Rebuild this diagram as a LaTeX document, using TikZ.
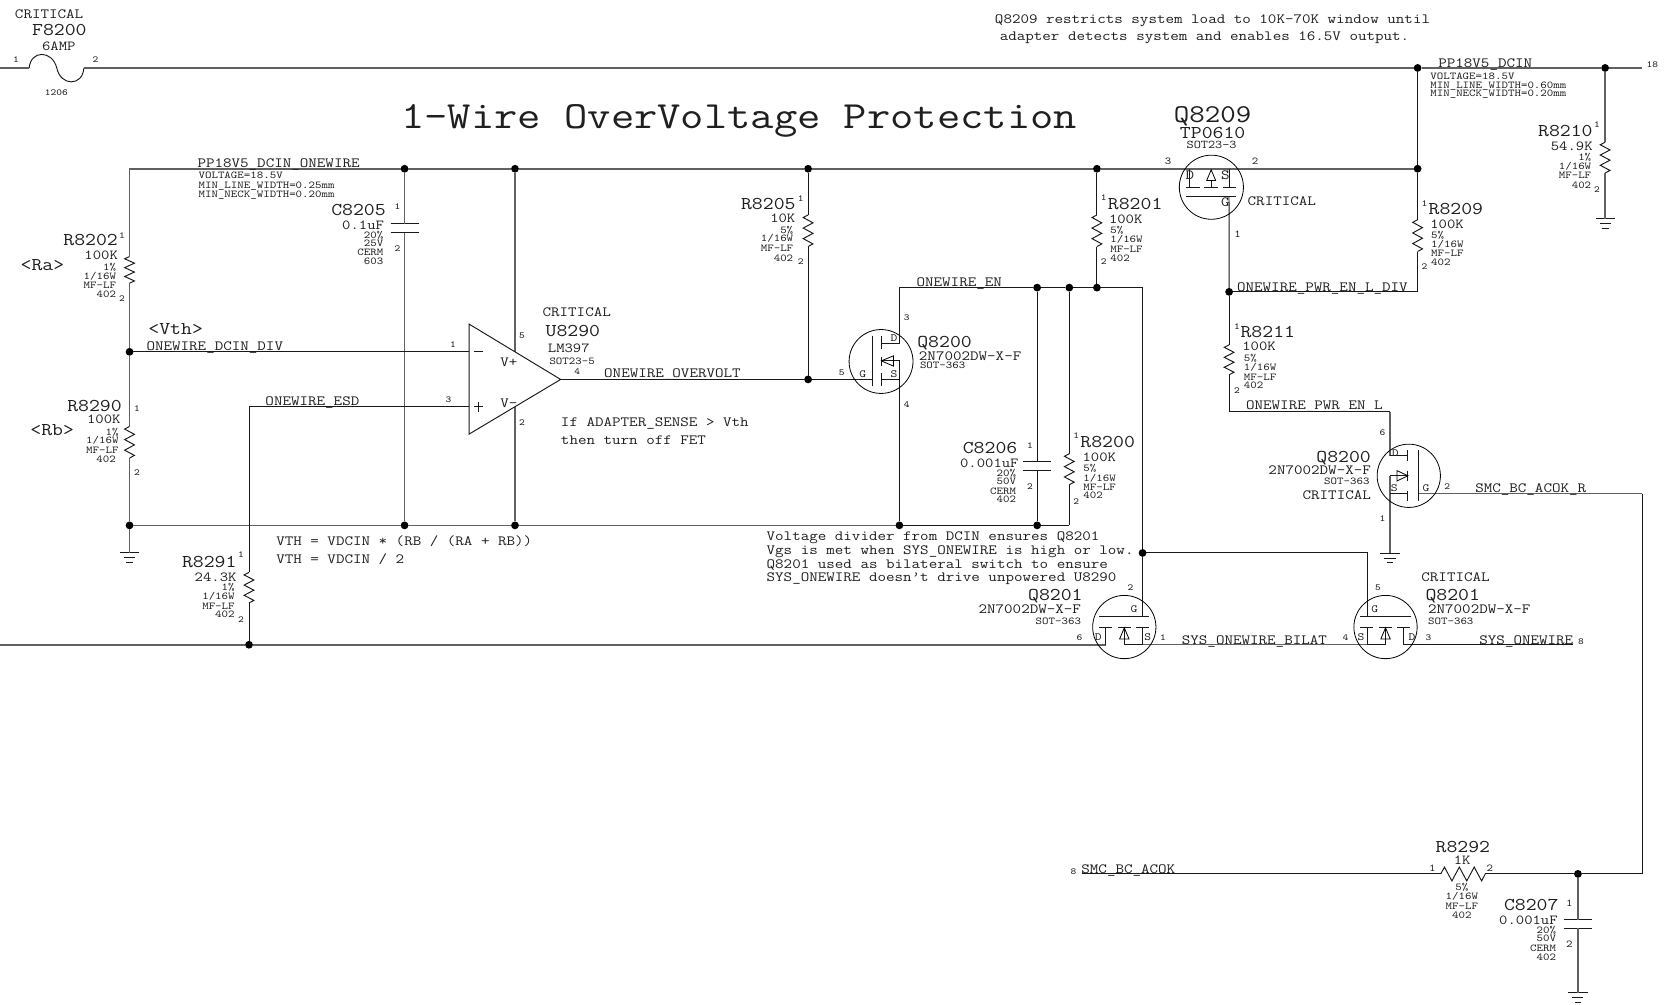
\documentclass[tikz,border=0pt]{standalone}
\usepackage{fontspec}
\setmainfont{Latin Modern Mono}[FakeStretch=1.175]
\newcounter{tn}
\newcommand{\T}[5]{\stepcounter{tn}\node[anchor=#1,#2] (t\arabic{tn}) at (#3,#4) {#5};}
% vertical resistor: name, x, y1, y2
\newcommand{\resv}[4]{%
  \coordinate (#1a) at (#2,#3); \coordinate (#1b) at (#2,#4);
  \pgfmathsetmacro{\hh}{(#4-#3)/12}
  \draw[wire,line join=miter] (#1a)
    -- ({#2-4.6},{#3+\hh}) -- ({#2+4.6},{#3+3*\hh}) -- ({#2-4.6},{#3+5*\hh})
    -- ({#2+4.6},{#3+7*\hh}) -- ({#2-4.6},{#3+9*\hh}) -- ({#2+4.6},{#3+11*\hh}) -- (#1b);}
% horizontal capacitor plates on a vertical wire: name, x, y1, y2
\newcommand{\capv}[4]{%
  \coordinate (#1a) at (#2,#3); \coordinate (#1b) at (#2,#4);
  \draw[wire] ({#2-13.2},#3) -- ({#2+13.2},#3);
  \draw[wire] ({#2-13.2},#4) -- ({#2+13.2},#4);}
% ground
\newcommand{\gnd}[3]{%
  \coordinate (#1) at (#2,#3);
  \draw[wire] ({#2-9},#3) -- ({#2+9},#3);
  \draw[wire] ({#2-5.2},{#3+4.6}) -- ({#2+5.2},{#3+4.6});
  \draw[wire] ({#2-3.2},{#3+9}) -- ({#2+3.2},{#3+9});}
\tikzset{
  fs/.style={font=\fontsize{#1}{#1}\selectfont,text height=.6*#1 pt,text depth=0pt,inner sep=0pt,outer sep=0pt,text=black!88},
  title/.style={fs=38.5},
  big/.style={fs=25.6},
  lab/.style={fs=18},
  mid/.style={fs=13.8},
  net/.style={fs=14.1},
  sm/.style={fs=10.5},
  fet/.style={fs=11},
  pinn/.style={fs=9.3},
  wire/.style={draw=black!90,line width=0.95pt},
  gw/.style={draw=black!62,line width=1.5pt},
  thin/.style={draw=black,line width=0.8pt},
  dot/.style={circle,fill=black,draw=none,minimum size=7.8pt,inner sep=0pt,outer sep=0pt},
}
\begin{document}
\begin{tikzpicture}[x=1.06186pt,y=-1.06131pt]
\useasboundingbox (0,0) rectangle (1568,946);
\fill[white] (0,0) rectangle (1568,946);
% junctions
\foreach \n/\x/\y in {j1/1335/64,j2/1511.6/64,j3/381/159,j4/485/159,j5/761/159,j6/1033/159,j7/1335/159,
  j8/122/331.5,j9/122/495,j10/381/495,j11/485/495,j12/847/495,j13/976.7/495,j14/761/357.5,
  j15/976.7/271,j16/1007/271,j17/1033/271,j18/1157.5/275,j19/1076/521,j20/234.5/607.5,j21/1486/823.4}
  {\node[dot] (\n) at (\x,\y) {};}
% free ends and corners
\foreach \n/\x/\y in {rl/0/64,f1/27.5/64,f2/79/64,re/1546/64,c1/122/159,c2/122/521,
  opT/485/331.5,opB/485/383.4,opM/441.8/331.5,opP/441.8/383.4,opO/528/357.5,c3/234.5/383.4,
  lr/0/607.5,qa/1041.2/607.5,qb/1075.8/607.4,qc/1287.6/607.4,qd/1321.9/607.4,qe/1481/607.4,
  g0/821.2/357.5,c4/847/271,c5/847/323.3,c6/829.7/323.3,c7/847/340,c8/1076/271,c9/1076/581,
  c10/1007/495,c11/1287.6/521,c12/1287.6/581,c13/1157.4/184.9,c14/1335/275,
  c15/1157.5/388,c16/1309/388,c17/1309/429.4,c18/1325.9/429.4,c19/1325.9/448.3,c20/1309/448.3,
  c21/1309/465,c22/1325.9/465,c23/1335.5/465,c24/1546.4/465,c25/1546.4/823.4,c26/1019.4/823.4}
  {\coordinate (\n) at (\x,\y);}
% fuse
\draw[wire] (f1) .. controls (29,47) and (49,47) .. (53.5,64) .. controls (57,81.5) and (78,81.5) .. (f2);
% resistors
\resv{R8202}{122}{241.7}{266.8}
\resv{R8290}{122}{401.8}{431.6}
\resv{R8291}{234.5}{539.3}{568.1}
\resv{R8205}{761}{202.5}{232.3}
\resv{R8201}{1033}{202.5}{232.3}
\resv{R8200}{1007}{427.5}{456.7}
\resv{R8209}{1335}{207}{237}
\resv{R8211}{1157.5}{324.9}{353.1}
\resv{R8210}{1511.6}{134}{163}
% horizontal resistor
\coordinate (R8292a) at (1356.8,823.4); \coordinate (R8292b) at (1398.7,823.4);
\draw[wire] (R8292a) -- (1360.3,817) -- (1367.3,830) -- (1374.3,817) -- (1381.3,830) -- (1388.3,817) -- (1395.3,830) -- (R8292b);
% capacitors
\capv{C8205}{381}{210.9}{219.1}
\capv{C8206}{976.7}{435}{443.5}
\capv{C8207}{1486}{866.4}{874.8}
% grounds
\gnd{G1}{122}{521}
\gnd{G2}{1511.6}{206.2}
\gnd{G3}{1309}{521.4}
\gnd{G4}{1486}{935.4}
% gray wires
\draw[gw] (rl) -- (f1);
\draw[gw] (f2) -- (j1) -- (j2) -- (re);
\draw[gw] (R8202a) -- (c1) -- (j3) -- (j4) -- (j5) -- (j6) -- (j7);
\draw[gw] (R8202b) -- (j8) -- (R8290a);
\draw[gw] (R8290b) -- (j9) -- (G1);
\draw[gw] (j9) -- (j10) -- (j11) -- (j12);
\draw[gw] (j3) -- (C8205a);
\draw[gw] (C8205b) -- (j10);
\draw[gw] (j4) -- (opT);
\draw[gw] (opB) -- (j11);
\draw[gw] (lr) -- (j20) -- (qa);
\draw[gw] (j2) -- (R8210a);
\draw[gw] (R8210b) -- (G2);
\draw[gw] (j21) -- (C8207a);
\draw[gw] (C8207b) -- (G4);
\draw[gw] (c23) -- (c24);
\draw[gw] (qb) -- (qc);
\draw[gw] (c16) -- (c17);
\draw[gw] (c20) -- (G3);
% black wires
\draw[wire] (j8) -- (opM);
\draw[wire] (opP) -- (c3) -- (R8291a);
\draw[wire] (R8291b) -- (j20);
\draw[wire] (opO) -- (j14) -- (g0);
\draw[wire] (j5) -- (R8205a);
\draw[wire] (R8205b) -- (j14);
\draw[wire] (j6) -- (R8201a);
\draw[wire] (R8201b) -- (j17);
\draw[wire] (c6) -- (c5) -- (c4) -- (j15) -- (j16) -- (j17) -- (c8) -- (j19) -- (c9);
\draw[wire] (c7) -- (j12);
\draw[wire] (j12) -- (j13) -- (c10);
\draw[wire] (j15) -- (C8206a);
\draw[wire] (C8206b) -- (j13);
\draw[wire] (j16) -- (R8200a);
\draw[wire] (R8200b) -- (c10);
\draw[wire] (j19) -- (c11) -- (c12);
\draw[wire] (c13) -- (j18);
\draw[wire] (j18) -- (c14) -- (R8209b);
\draw[wire] (R8209a) -- (j7) -- (j1);
\draw[wire] (j18) -- (R8211a);
\draw[wire] (R8211b) -- (c15) -- (c16);
\draw[wire] (c17) -- (c18);
\draw[wire] (c19) -- (c20);
\draw[wire] (c21) -- (c22);
\draw[wire] (c24) -- (c25) -- (j21) -- (R8292b);
\draw[wire] (R8292a) -- (c26);
\draw[wire] (qd) -- (qe);
% op amp
\draw[wire,line join=miter] (441.8,305.4) -- (opO) -- (441.8,409) -- cycle;
\draw[wire] (446,331.5) -- (455,331.5);
\draw[wire] (446,383.4) -- (455,383.4) (450.5,379) -- (450.5,388);
% Q8200 upper
\draw[thin] (829.7,340.6) circle (30.1);
\draw[wire] (821.2,316.4) -- (821.2,363.5);
\draw[wire] (829.7,316.4) -- (829.7,329);
\draw[wire] (829.7,335.9) -- (829.7,345.3);
\draw[wire] (829.7,351.6) -- (829.7,363.5);
\draw[wire] (829.7,357.5) -- (847,357.5) -- (847,340) -- (829.7,340);
\draw[thin,line join=miter] (830,340) -- (841.5,335.2) -- (841.5,345) -- cycle;
% Q8200 lower
\draw[thin] (1326.7,448.3) circle (29.8);
\draw[wire] (1335.5,424.4) -- (1335.5,471.8);
\draw[wire] (1325.9,424.4) -- (1325.9,434);
\draw[wire] (1325.9,443.5) -- (1325.9,453);
\draw[wire] (1325.9,462.4) -- (1325.9,471.8);
\draw[thin,line join=miter] (1325.9,448.3) -- (1315.5,443.4) -- (1315.5,453.2) -- cycle;
% Q8209
\draw[thin] (1140.8,176.4) circle (30.2);
\draw[wire] (1120.6,159) -- (1120.6,176.7);
\draw[wire] (1157.4,159) -- (1157.4,176.7);
\draw[wire] (1140.6,170) -- (1140.6,176.7);
\draw[wire] (1117.3,176.7) -- (1130,176.7) (1134.3,176.7) -- (1147,176.7) (1152,176.7) -- (1164,176.7);
\draw[wire] (1117.3,184.9) -- (1164,184.9);
\draw[thin,line join=miter] (1140.6,160) -- (1136.4,170) -- (1144.8,170) -- cycle;
% Q8201 left
\draw[thin] (1058.8,590.8) circle (29.8);
\draw[wire] (1035.3,581) -- (1082.2,581);
\draw[wire] (1035.3,590.8) -- (1047.2,590.8) (1053.2,590.8) -- (1065,590.8) (1070.2,590.8) -- (1082.2,590.8);
\draw[wire] (1041.2,590.8) -- (qa);
\draw[wire] (1075.8,590.8) -- (qb);
\draw[wire] (1058.8,590.8) -- (1058.8,607.4) -- (qb);
\draw[thin,line join=miter] (1058.8,591.5) -- (1054.4,602) -- (1063.2,602) -- cycle;
% Q8201 right
\draw[thin] (1304.8,590.8) circle (29.8);
\draw[wire] (1281,581) -- (1328.6,581);
\draw[wire] (1281,590.8) -- (1293,590.8) (1298.9,590.8) -- (1310.9,590.8) (1316,590.8) -- (1328,590.8);
\draw[wire] (1287.6,590.8) -- (qc);
\draw[wire] (1321.9,590.8) -- (qd);
\draw[wire] (1304.8,590.8) -- (1304.8,607.4) -- (qc);
\draw[thin,line join=miter] (1304.8,591.5) -- (1300.4,602) -- (1309.2,602) -- cycle;
% texts
\T{west}{title}{378}{110}{1-Wire OverVoltage Protection}
\T{west}{net}{937}{18}{Q8209 restricts system load to 10K-70K window until}
\T{west}{net}{941.5}{34}{adapter detects system and enables 16.5V output.}
\T{west}{net}{14.1}{13.5}{CRITICAL}
\T{west}{lab}{30.3}{28.2}{F8200}
\T{west}{mid}{39.7}{43.3}{6AMP}
\T{center}{pinn}{53}{87}{1206}
\T{center}{pinn}{15}{56.5}{1}
\T{center}{pinn}{90}{56.5}{2}
% PP18V5_DCIN
\T{west}{net}{1354.5}{60}{PP18V5\_DCIN}
\T{west}{sm}{1347}{71.5}{VOLTAGE=18.5V}
\T{west}{sm}{1347}{80}{MIN\_LINE\_WIDTH=0.60mm}
\T{west}{sm}{1347}{88}{MIN\_NECK\_WIDTH=0.20mm}
\T{center}{pinn}{1556}{61}{18}
% PP18V5_DCIN_ONEWIRE
\T{west}{net}{186}{153.8}{PP18V5\_DCIN\_ONEWIRE}
\T{west}{sm}{187}{165}{VOLTAGE=18.5V}
\T{west}{sm}{187}{174.5}{MIN\_LINE\_WIDTH=0.25mm}
\T{west}{sm}{187}{183}{MIN\_NECK\_WIDTH=0.20mm}
% C8205
\T{east}{lab}{363.3}{197.7}{C8205}
\T{east}{mid}{361.6}{212.2}{0.1uF}
\T{east}{sm}{361}{221.6}{20\%}
\T{east}{sm}{361}{229.1}{25V}
\T{east}{sm}{361}{237.6}{CERM}
\T{east}{sm}{361}{245.8}{603}
\T{center}{pinn}{374.4}{195.2}{1}
\T{center}{pinn}{374.4}{234.5}{2}
% R8202
\T{east}{lab}{111}{226.6}{R8202}
\T{east}{mid}{111}{241}{100K}
\T{east}{sm}{109.3}{251.7}{1\%}
\T{east}{sm}{109.3}{260.2}{1/16W}
\T{east}{sm}{109.3}{268.7}{MF-LF}
\T{east}{sm}{109.3}{277.2}{402}
\T{center}{pinn}{115}{222}{1}
\T{center}{pinn}{115}{281.5}{2}
\T{center}{lab}{40}{249.5}{<Ra>}
\T{west}{lab}{139.8}{309.8}{<Vth>}
\T{west}{net}{138}{326.1}{ONEWIRE\_DCIN\_DIV}
\T{west}{net}{250}{377.9}{ONEWIRE\_ESD}
% R8290
\T{east}{lab}{114.6}{382.3}{R8290}
\T{east}{mid}{113.5}{395.5}{100K}
\T{east}{sm}{111.7}{407.1}{1\%}
\T{east}{sm}{111.7}{415.3}{1/16W}
\T{east}{sm}{111.7}{424.1}{MF-LF}
\T{east}{sm}{109}{432.5}{402}
\T{center}{pinn}{129}{385.5}{1}
\T{center}{pinn}{129}{445.7}{2}
\T{center}{lab}{49.2}{405}{<Rb>}
% R8291
\T{east}{lab}{222.7}{529.6}{R8291}
\T{east}{mid}{222.7}{543.7}{24.3K}
\T{east}{sm}{221}{553.7}{1\%}
\T{east}{sm}{221}{562.2}{1/16W}
\T{east}{sm}{221}{571}{MF-LF}
\T{east}{sm}{221}{579.1}{402}
\T{center}{pinn}{227}{522.6}{1}
\T{center}{pinn}{227}{583.9}{2}
\T{west}{net}{260.2}{509.8}{VTH = VDCIN * (RB / (RA + RB))}
\T{west}{net}{260.2}{526.7}{VTH = VDCIN / 2}
% U8290
\T{west}{net}{511}{294}{CRITICAL}
\T{west}{lab}{513.9}{312.4}{U8290}
\T{west}{mid}{516}{328}{LM397}
\T{west}{sm}{517.5}{340.3}{SOT23-5}
\T{center}{net}{479.3}{341.2}{V+}
\T{center}{net}{479.3}{379.8}{V-}
\T{center}{pinn}{491.6}{316}{5}
\T{center}{pinn}{491.6}{398.7}{2}
\T{center}{pinn}{543.5}{350.3}{4}
\T{center}{pinn}{426.7}{325.2}{1}
\T{center}{pinn}{422.4}{377}{3}
\T{west}{net}{569}{352}{ONEWIRE\_OVERVOLT}
\T{west}{net}{528.3}{397.7}{If ADAPTER\_SENSE > Vth}
\T{west}{net}{528.3}{414.6}{then turn off FET}
% R8205
\T{east}{lab}{749.2}{192.1}{R8205}
\T{east}{mid}{749}{206.2}{10K}
\T{east}{sm}{747}{216.6}{5\%}
\T{east}{sm}{747}{225}{1/16W}
\T{east}{sm}{747}{234.4}{MF-LF}
\T{east}{sm}{747}{243.3}{402}
\T{center}{pinn}{754}{186.8}{1}
\T{center}{pinn}{754}{247}{2}
% R8201
\T{west}{lab}{1043.4}{192.4}{R8201}
\T{west}{mid}{1044.4}{206.5}{100K}
\T{west}{sm}{1045.6}{216.6}{5\%}
\T{west}{sm}{1045.6}{225.4}{1/16W}
\T{west}{sm}{1045.6}{234.5}{MF-LF}
\T{west}{sm}{1045.6}{243.3}{402}
\T{center}{pinn}{1039.5}{186.6}{1}
\T{center}{pinn}{1039.5}{247}{2}
\T{west}{net}{863.2}{265.5}{ONEWIRE\_EN}
% Q8200 upper
\T{center}{pinn}{853.8}{299.2}{3}
\T{center}{pinn}{853.8}{381}{4}
\T{center}{pinn}{792.6}{351}{5}
\T{center}{fet}{841.9}{318.6}{D}
\T{center}{fet}{812.4}{352.2}{G}
\T{center}{fet}{841.9}{353}{S}
\T{west}{lab}{863.9}{322}{Q8200}
\T{west}{net}{865.4}{335.3}{2N7002DW-X-F}
\T{west}{sm}{866.4}{344.7}{SOT-363}
% Q8209
\T{center}{big}{1142}{108.5}{Q8209}
\T{center}{lab}{1142}{125.5}{TP0610}
\T{center}{fs=11.8}{1141}{137}{SOT23-3}
\T{west}{net}{1175}{190}{CRITICAL}
\T{center}{net}{1120.6}{164.7}{D}
\T{center}{net}{1154}{164.7}{S}
\T{center}{net}{1154}{190.8}{G}
\T{center}{sm}{1100}{152}{3}
\T{center}{sm}{1182}{152}{2}
\T{center}{sm}{1165.4}{221}{1}
% R8209
\T{west}{lab}{1345.4}{196.8}{R8209}
\T{west}{mid}{1347}{211}{100K}
\T{west}{sm}{1347.8}{221.3}{5\%}
\T{west}{sm}{1347.8}{229.8}{1/16W}
\T{west}{sm}{1347.8}{238.6}{MF-LF}
\T{west}{sm}{1347.8}{247}{402}
\T{center}{pinn}{1341.4}{191.5}{1}
\T{center}{pinn}{1341.4}{251.4}{2}
% R8210
\T{east}{lab}{1499.8}{123.4}{R8210}
\T{east}{mid}{1499.8}{137.5}{54.9K}
\T{east}{sm}{1498.5}{148.1}{1\%}
\T{east}{sm}{1498.5}{156.3}{1/16W}
\T{east}{sm}{1498.5}{165}{MF-LF}
\T{east}{sm}{1498.5}{174.5}{402}
\T{center}{pinn}{1504}{117.1}{1}
\T{center}{pinn}{1504}{178.3}{2}
% R8211
\T{west}{net}{1165}{270.5}{ONEWIRE\_PWR\_EN\_L\_DIV}
\T{west}{lab}{1168.3}{312.6}{R8211}
\T{west}{mid}{1170}{326.7}{100K}
\T{west}{sm}{1171.5}{338}{5\%}
\T{west}{sm}{1171.5}{346.5}{1/16W}
\T{west}{sm}{1171.5}{355.3}{MF-LF}
\T{west}{sm}{1171.5}{363.5}{402}
\T{center}{pinn}{1165}{307.6}{1}
\T{center}{pinn}{1165}{368.1}{2}
\T{west}{net}{1173.5}{382.3}{ONEWIRE\_PWR\_EN\_L}
% C8206
\T{east}{lab}{958}{422.2}{C8206}
\T{east}{mid}{959.2}{436.3}{0.001uF}
\T{east}{sm}{956.8}{445.7}{20\%}
\T{east}{sm}{956.8}{453.3}{50V}
\T{east}{sm}{956.8}{462.7}{CERM}
\T{east}{sm}{956.8}{470.9}{402}
\T{center}{pinn}{969.9}{420}{1}
\T{center}{pinn}{969.9}{458.9}{2}
% R8200
\T{west}{lab}{1017.5}{416.5}{R8200}
\T{west}{mid}{1019.5}{431.3}{100K}
\T{west}{sm}{1020.3}{441}{5\%}
\T{west}{sm}{1020.3}{450.5}{1/16W}
\T{west}{sm}{1020.3}{458.9}{MF-LF}
\T{west}{sm}{1020.3}{467.1}{402}
\T{center}{pinn}{1013.5}{410.6}{1}
\T{center}{pinn}{1013.5}{472.4}{2}
% divider note
\T{west}{net}{722}{505}{Voltage divider from DCIN ensures Q8201}
\T{west}{net}{722}{518.3}{Vgs is met when SYS\_ONEWIRE is high or low.}
\T{west}{net}{722}{531.4}{Q8201 used as bilateral switch to ensure}
\T{west}{net}{722}{543.7}{SYS\_ONEWIRE doesn't drive unpowered U8290}
% Q8200 lower
\T{east}{lab}{1291}{430.7}{Q8200}
\T{east}{net}{1291}{442.9}{2N7002DW-X-F}
\T{east}{sm}{1289.7}{453.3}{SOT-363}
\T{east}{net}{1291}{466.5}{CRITICAL}
\T{center}{fet}{1314}{427}{D}
\T{center}{fet}{1313}{459.9}{S}
\T{center}{fet}{1343}{459.9}{G}
\T{center}{pinn}{1302}{407.4}{6}
\T{center}{pinn}{1302}{488.9}{1}
\T{center}{pinn}{1363}{459}{2}
\T{west}{net}{1389.3}{459.9}{SMC\_BC\_ACOK\_R}
% Q8201 left
\T{east}{lab}{1019.5}{560.4}{Q8201}
\T{east}{net}{1018}{573.8}{2N7002DW-X-F}
\T{east}{sm}{1018}{585.8}{SOT-363}
\T{center}{fet}{1034.3}{600.8}{D}
\T{center}{fet}{1081}{600.8}{S}
\T{center}{fet}{1068}{574.4}{G}
\T{center}{pinn}{1064.7}{554}{2}
\T{center}{pinn}{1016.7}{601}{6}
\T{center}{pinn}{1095.2}{601}{1}
\T{west}{net}{1113}{603}{SYS\_ONEWIRE\_BILAT}
% Q8201 right
\T{west}{net}{1338.6}{543.5}{CRITICAL}
\T{west}{lab}{1342.5}{560.4}{Q8201}
\T{west}{net}{1344.9}{573.8}{2N7002DW-X-F}
\T{west}{sm}{1344.9}{585.8}{SOT-363}
\T{center}{fet}{1294.6}{574.4}{G}
\T{center}{fet}{1281.8}{600.8}{S}
\T{center}{fet}{1329.8}{600.8}{D}
\T{center}{pinn}{1267.2}{601}{4}
\T{center}{pinn}{1297.7}{554}{5}
\T{center}{pinn}{1345.2}{601}{3}
\T{west}{net}{1393.2}{603}{SYS\_ONEWIRE}
\T{center}{pinn}{1488.9}{604.6}{8}
% SMC_BC_ACOK
\T{center}{pinn}{1010.9}{820.9}{8}
\T{west}{net}{1018.4}{818.7}{SMC\_BC\_ACOK}
\T{center}{lab}{1377.6}{797.9}{R8292}
\T{center}{mid}{1377}{811.1}{1K}
\T{center}{sm}{1348.8}{817.7}{1}
\T{center}{sm}{1403}{817.7}{2}
\T{center}{sm}{1376.7}{836.5}{5\%}
\T{center}{sm}{1376.7}{845}{1/16W}
\T{center}{sm}{1376.7}{854.1}{MF-LF}
\T{center}{sm}{1376.7}{862.6}{402}
% C8207
\T{east}{lab}{1467.7}{853.2}{C8207}
\T{east}{mid}{1466.9}{867.3}{0.001uF}
\T{east}{sm}{1465.4}{877}{20\%}
\T{east}{sm}{1465.4}{884}{50V}
\T{east}{sm}{1465.4}{894}{CERM}
\T{east}{sm}{1465.4}{902.2}{402}
\T{center}{sm}{1477.8}{851.3}{1}
\T{center}{sm}{1477.8}{889.6}{2}
\end{tikzpicture}
\end{document}
